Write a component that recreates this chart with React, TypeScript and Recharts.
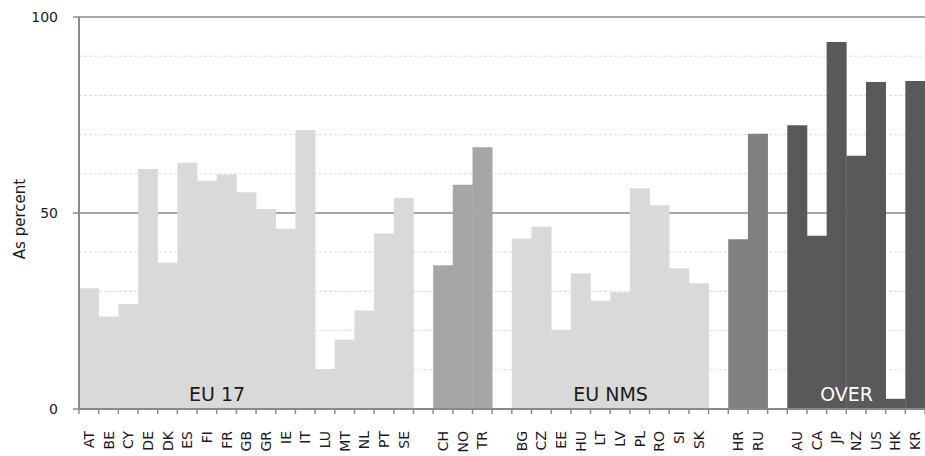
import React from 'react';
import { BarChart, Bar, Cell, XAxis, YAxis, CartesianGrid, LabelList, Label } from 'recharts';

// Country codes and shares (percent)
const eu17Codes = ['AT', 'BE', 'CY', 'DE', 'DK', 'ES', 'FI', 'FR', 'GB', 'GR', 'IE', 'IT', 'LU', 'MT', 'NL', 'PT', 'SE'];
const eu17Values = [30.8, 23.6, 26.8, 61.2, 37.3, 62.8, 58.2, 59.8, 55.3, 51.0, 46.0, 71.2, 10.2, 17.7, 25.1, 44.8, 53.9];

const westCodes = ['CH', 'NO', 'TR'];
const westValues = [36.7, 57.2, 66.8];

const nmsCodes = ['BG', 'CZ', 'EE', 'HU', 'LT', 'LV', 'PL', 'RO', 'SI', 'SK'];
const nmsValues = [43.4, 46.5, 20.2, 34.6, 27.6, 29.8, 56.3, 52.0, 35.9, 32.1];

const eastCodes = ['HR', 'RU'];
const eastValues = [43.3, 70.2];

const overCodes = ['AU', 'CA', 'JP', 'NZ', 'US', 'HK', 'KR'];
const overValues = [72.4, 44.2, 93.6, 64.6, 83.4, 2.6, 83.7];

// group label is drawn at the right edge of this country's bar
const groupLabels = [
  { text: 'EU 17', after: 'FI' },
  { text: 'EU NMS', after: 'LT' },
  { text: 'OVER', after: 'JP' },
];

const minorTicks = [10, 20, 30, 40, 60, 70, 80, 90];
const majorTicks = [0, 50, 100];

const groups = [
  { codes: eu17Codes, values: eu17Values, color: '#d9d9d9' },
  { codes: westCodes, values: westValues, color: '#a6a6a6' },
  { codes: nmsCodes, values: nmsValues, color: '#d9d9d9' },
  { codes: eastCodes, values: eastValues, color: '#808080' },
  { codes: overCodes, values: overValues, color: '#595959' },
];

type Row = { code: string; value: number | null; color: string; groupLabel?: string };

const data: Row[] = [];
groups.forEach((g, gi) => {
  if (gi > 0) data.push({ code: '', value: null, color: 'none' }); // spacer between groups
  g.codes.forEach((code, i) => {
    const lbl = groupLabels.find((l) => l.after === code);
    data.push({ code, value: g.values[i], color: g.color, groupLabel: lbl ? lbl.text : undefined });
  });
});

const FONT = '"DejaVu Sans", sans-serif';
const AXIS = '#8a8a8a';

const CountryTick = (props: any) => {
  const { x, y, payload, index } = props;
  const half = payload?.offset ?? 9.84;
  return (
    <g>
      <line x1={x - half} y1={y} x2={x - half} y2={y + 5} stroke={AXIS} strokeWidth={1.5} />
      {index === data.length - 1 && (
        <line x1={x + half} y1={y} x2={x + half} y2={y + 5} stroke={AXIS} strokeWidth={1.5} />
      )}
      {payload.value ? (
        <text
          transform={`translate(${x},${y + 22}) rotate(-90)`}
          textAnchor="end"
          dominantBaseline="central"
          fontSize={14}
          fontFamily={FONT}
          fill="#1a1a1a"
        >
          {payload.value}
        </text>
      ) : null}
    </g>
  );
};

const GroupLabel = (props: any) => {
  const { x, y, width, height, value } = props;
  if (!value) return null;
  return (
    <text
      x={Number(x) + Number(width)}
      y={Number(y) + Number(height) - 8}
      textAnchor="middle"
      fontSize={19}
      fontFamily={FONT}
      fill={value === 'OVER' ? '#ffffff' : '#1a1a1a'}
    >
      {value}
    </text>
  );
};

const AxisTitle = (props: any) => {
  const vb = props.viewBox || {};
  const cy = (vb.y ?? 17) + (vb.height ?? 392) / 2 + 6;
  return (
    <text
      transform={`translate(20,${cy}) rotate(-90)`}
      textAnchor="middle"
      dominantBaseline="central"
      fontSize={15}
      fontFamily={FONT}
      fill="#1a1a1a"
    >
      As percent
    </text>
  );
};

export default function App() {
  return (
    <div style={{ position: 'absolute', left: 0, top: 0 }}>
      <BarChart
        width={925}
        height={456}
        data={data}
        margin={{ top: 17, right: 0, left: 0, bottom: 0 }}
        barCategoryGap={0}
      >
        <CartesianGrid vertical={false} horizontalValues={minorTicks} stroke="#dcdcdc" strokeDasharray="3 2" />
        <CartesianGrid vertical={false} horizontalValues={[50, 100]} stroke={AXIS} strokeWidth={1.5} />
        <XAxis
          dataKey="code"
          interval={0}
          height={47}
          tickSize={0}
          tickMargin={0}
          tickLine={false}
          axisLine={{ stroke: AXIS, strokeWidth: 2 }}
          tick={<CountryTick />}
        />
        <YAxis
          width={79}
          domain={[0, 100]}
          ticks={majorTicks}
          tickSize={6}
          tickMargin={15}
          tickLine={{ stroke: AXIS, strokeWidth: 1.5 }}
          axisLine={{ stroke: AXIS, strokeWidth: 2 }}
          tick={{ fontSize: 14, fontFamily: FONT, fill: '#1a1a1a' }}
        >
          <Label content={<AxisTitle />} />
        </YAxis>
        <Bar dataKey="value" isAnimationActive={false}>
          {data.map((d, i) => (
            <Cell key={i} fill={d.color} />
          ))}
          <LabelList dataKey="groupLabel" content={<GroupLabel />} />
        </Bar>
      </BarChart>
    </div>
  );
}
